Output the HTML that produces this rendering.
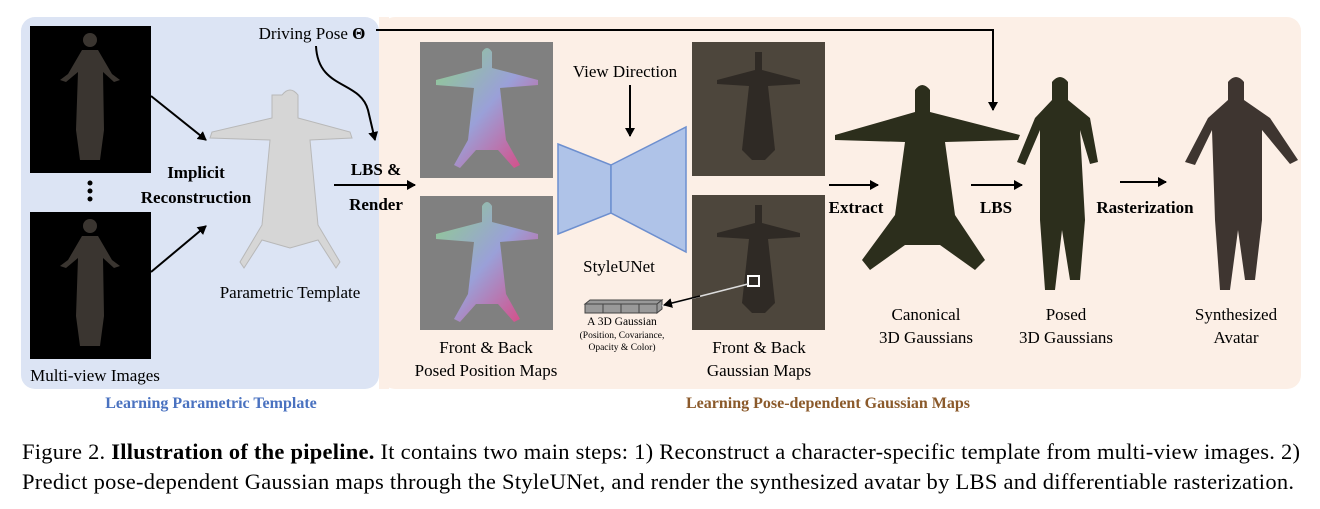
<!DOCTYPE html>
<html><head><meta charset="utf-8"><style>
html,body{margin:0;padding:0;background:#fff;}
svg{display:block;font-family:"Liberation Serif",serif;}
</style></head><body>
<svg width="1320" height="509" viewBox="0 0 1320 509" xmlns="http://www.w3.org/2000/svg">
<defs>
<marker id="a" markerWidth="10" markerHeight="10" refX="8" refY="5" orient="auto" markerUnits="userSpaceOnUse"><path d="M0,0 L9,5 L0,10 z" fill="#000"/></marker>
<linearGradient id="pm" x1="0" y1="0" x2="1" y2="1"><stop offset="0" stop-color="#8fd08a"/><stop offset="0.5" stop-color="#9aa0d8"/><stop offset="1" stop-color="#e0407a"/></linearGradient>
</defs>
<rect x="21" y="17" width="358" height="372" rx="14" fill="#dce4f4"/>
<rect x="381" y="17" width="920" height="372" rx="14" fill="#fcefe6"/>
<rect x="379" y="17" width="10" height="372" fill="#fcefe6"/>
<rect x="30" y="26" width="121" height="147" fill="#000"/>
<rect x="30" y="212" width="121" height="147" fill="#000"/>
<g fill="#3a3530">
<circle cx="90" cy="40" r="7"/><path d="M82,50 L98,50 L112,74 L120,80 L114,82 L103,72 L104,130 L100,160 L80,160 L76,130 L78,72 L66,82 L60,80 L68,74 z"/>
<circle cx="90" cy="226" r="7"/><path d="M82,236 L98,236 L112,260 L120,266 L114,268 L103,258 L104,316 L100,346 L80,346 L76,316 L78,258 L66,268 L60,266 L68,260 z"/>
</g>
<circle cx="90" cy="183" r="2.5" fill="#000"/><circle cx="90" cy="191" r="2.5" fill="#000"/><circle cx="90" cy="199" r="2.5" fill="#000"/>
<text x="95" y="381" font-size="17" text-anchor="middle">Multi-view Images</text>
<line x1="151" y1="96" x2="206" y2="140" stroke="#000" stroke-width="2" marker-end="url(#a)"/>
<line x1="151" y1="272" x2="206" y2="226" stroke="#000" stroke-width="2" marker-end="url(#a)"/>
<text x="196" y="178" font-size="17" font-weight="bold" text-anchor="middle">Implicit</text>
<text x="196" y="203" font-size="17" font-weight="bold" text-anchor="middle">Reconstruction</text>
<path d="M282,95 Q290,85 298,95 L298,118 L350,132 L352,138 L310,140 L318,225 L340,262 L336,268 L318,240 L290,248 L262,240 L244,268 L240,262 L262,225 L270,140 L210,138 L212,132 L272,118 L272,95 z" fill="#d6d6d6" stroke="#b8b8b8"/>
<text x="290" y="298" font-size="17" text-anchor="middle">Parametric Template</text>
<text x="312" y="39" font-size="17" text-anchor="middle">Driving Pose <tspan font-weight="bold">Θ</tspan></text>
<path d="M316,46 C318,90 360,80 368,110 L375,140" fill="none" stroke="#000" stroke-width="2" marker-end="url(#a)"/>
<text x="376" y="175" font-size="17" font-weight="bold" text-anchor="middle">LBS &amp;</text>
<text x="376" y="210" font-size="17" font-weight="bold" text-anchor="middle">Render</text>
<line x1="334" y1="185" x2="415" y2="185" stroke="#000" stroke-width="2" marker-end="url(#a)"/>
<rect x="420" y="42" width="133" height="136" fill="#808080"/>
<rect x="420" y="196" width="133" height="134" fill="#808080"/>
<path d="M482,52 Q487,44 492,52 L492,68 L538,80 L538,85 L500,88 L506,140 L520,165 L514,168 L498,150 L476,150 L460,168 L454,165 L468,140 L474,88 L436,85 L436,80 L482,68 z" fill="url(#pm)"/>
<path d="M482,206 Q487,198 492,206 L492,222 L538,234 L538,239 L500,242 L506,294 L520,319 L514,322 L498,304 L476,304 L460,322 L454,319 L468,294 L474,242 L436,239 L436,234 L482,222 z" fill="url(#pm)"/>
<text x="486" y="353" font-size="17" text-anchor="middle">Front &amp; Back</text>
<text x="486" y="376" font-size="17" text-anchor="middle">Posed Position Maps</text>
<text x="625" y="77" font-size="17" text-anchor="middle">View Direction</text>
<line x1="630" y1="85" x2="630" y2="136" stroke="#000" stroke-width="2" marker-end="url(#a)"/>
<path d="M558,144 L611,165 L611,213 L558,234 z" fill="#afc3e8" stroke="#6d8fcf" stroke-width="1.5"/>
<path d="M611,165 L686,127 L686,252 L611,213 z" fill="#afc3e8" stroke="#6d8fcf" stroke-width="1.5"/>
<text x="619" y="272" font-size="17" text-anchor="middle">StyleUNet</text>
<g fill="#999" stroke="#444" stroke-width="1"><rect x="585" y="304" width="18" height="9"/><rect x="603" y="304" width="18" height="9"/><rect x="621" y="304" width="18" height="9"/><rect x="639" y="304" width="18" height="9"/><path d="M585,304 L590,300 L662,300 L657,304 z"/><path d="M657,304 L662,300 L662,309 L657,313 z"/></g>
<text x="622" y="325" font-size="11.5" text-anchor="middle">A 3D Gaussian</text>
<text x="622" y="338" font-size="9.5" text-anchor="middle">(Position, Covariance,</text>
<text x="622" y="350" font-size="9.5" text-anchor="middle">Opacity &amp; Color)</text>
<rect x="692" y="42" width="133" height="134" fill="#4d463c"/>
<rect x="692" y="195" width="133" height="135" fill="#4d463c"/>
<path d="M755,52 L762,52 L762,70 L800,80 L800,84 L768,86 L775,150 L765,160 L752,160 L742,150 L749,86 L717,84 L717,80 L755,70 z" fill="#2f2a25"/>
<path d="M755,205 L762,205 L762,223 L800,233 L800,237 L768,239 L775,303 L765,313 L752,313 L742,303 L749,239 L717,237 L717,233 L755,223 z" fill="#2f2a25"/>
<rect x="748" y="276" width="11" height="10" fill="none" stroke="#fff" stroke-width="2"/>
<line x1="748" y1="284" x2="662" y2="306" stroke="#ddd" stroke-width="1.5"/>
<line x1="700" y1="296" x2="664" y2="305" stroke="#000" stroke-width="1.5" marker-end="url(#a)"/>
<text x="759" y="353" font-size="17" text-anchor="middle">Front &amp; Back</text>
<text x="759" y="376" font-size="17" text-anchor="middle">Gaussian Maps</text>
<path d="M376,30 L993,30 L993,110" fill="none" stroke="#000" stroke-width="2" marker-end="url(#a)"/>
<line x1="829" y1="185" x2="878" y2="185" stroke="#000" stroke-width="2" marker-end="url(#a)"/>
<text x="856" y="213" font-size="17" font-weight="bold" text-anchor="middle">Extract</text>
<path d="M915,90 Q922,80 930,90 L930,112 L1020,135 L1018,140 L945,142 L955,215 L985,260 L975,270 L940,245 L905,245 L870,270 L862,260 L895,215 L905,142 L835,140 L835,135 L915,112 z" fill="#2c2e1c"/>
<text x="926" y="320" font-size="17" text-anchor="middle">Canonical</text>
<text x="926" y="343" font-size="17" text-anchor="middle">3D Gaussians</text>
<line x1="971" y1="185" x2="1022" y2="185" stroke="#000" stroke-width="2" marker-end="url(#a)"/>
<text x="996" y="213" font-size="17" font-weight="bold" text-anchor="middle">LBS</text>
<path d="M1052,82 Q1060,72 1068,82 L1068,100 L1090,118 L1098,162 L1090,164 L1080,130 L1085,220 L1080,280 L1070,280 L1062,230 L1055,290 L1045,290 L1040,220 L1040,130 L1025,165 L1017,162 L1035,118 L1052,100 z" fill="#2c2e1c"/>
<text x="1066" y="320" font-size="17" text-anchor="middle">Posed</text>
<text x="1066" y="343" font-size="17" text-anchor="middle">3D Gaussians</text>
<line x1="1120" y1="182" x2="1166" y2="182" stroke="#000" stroke-width="2" marker-end="url(#a)"/>
<text x="1145" y="213" font-size="17" font-weight="bold" text-anchor="middle">Rasterization</text>
<path d="M1228,82 Q1236,72 1244,82 L1244,100 L1270,118 L1298,160 L1290,164 L1262,130 L1262,220 L1255,280 L1245,280 L1238,230 L1230,290 L1220,290 L1215,220 L1212,130 L1195,165 L1185,162 L1208,118 L1228,100 z" fill="#3e3530"/>
<text x="1236" y="320" font-size="17" text-anchor="middle">Synthesized</text>
<text x="1236" y="343" font-size="17" text-anchor="middle">Avatar</text>
<text x="211" y="408" font-size="16" font-weight="bold" fill="#4a72c0" text-anchor="middle">Learning Parametric Template</text>
<text x="828" y="408" font-size="16" font-weight="bold" fill="#8b5a2b" text-anchor="middle">Learning Pose-dependent Gaussian Maps</text>
<text x="22" y="459" font-size="22.5" textLength="1278" lengthAdjust="spacing">Figure 2. <tspan font-weight="bold">Illustration of the pipeline.</tspan> It contains two main steps: 1) Reconstruct a character-specific template from multi-view images. 2)</text>
<text x="22" y="489" font-size="22.5" textLength="1272" lengthAdjust="spacing">Predict pose-dependent Gaussian maps through the StyleUNet, and render the synthesized avatar by LBS and differentiable rasterization.</text>
</svg>
</body></html>
